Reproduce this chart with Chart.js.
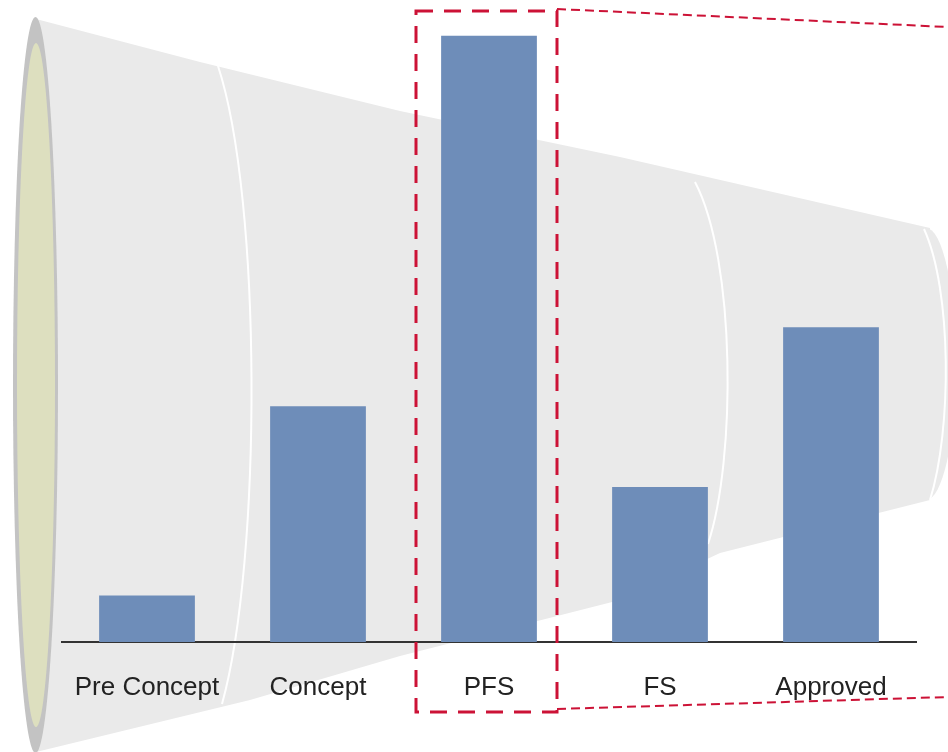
<!DOCTYPE html>
<html>
<head>
<meta charset="utf-8">
<script src="https://cdn.jsdelivr.net/npm/chart.js@4.4.1/dist/chart.umd.min.js"></script>
<style>
    html, body { margin: 0; padding: 0; background: #ffffff; }
    #wrap { width: 948px; height: 752px; position: relative; }
</style>
</head>
<body>
<div id="wrap"><canvas id="funnelChart"></canvas></div>
<script>
// stages and counts
const stages = ["Pre Concept", "Concept", "PFS", "FS", "Approved"];
const counts = [3, 15.2, 39.1, 10, 20.3];
const highlightStage = "PFS";

const barColor = "#6e8db9";
const funnelGray = "#eaeaea";
const dashRed = "#cc1236";

// Draw the grey cone behind the bars
const funnelBackground = {
    id: "funnelBackground",
    beforeDraw(chart) {
        const ctx = chart.ctx;
        ctx.save();

        // body of the cone
        ctx.fillStyle = funnelGray;
        ctx.beginPath();
        ctx.moveTo(36, 19);
        ctx.lineTo(200, 62);
        ctx.lineTo(400, 111);
        ctx.lineTo(620, 157);
        ctx.lineTo(930, 228);
        ctx.lineTo(930, 500);
        ctx.lineTo(720, 553);
        ctx.lineTo(620, 600);
        ctx.lineTo(400, 656);
        ctx.lineTo(250, 700);
        ctx.lineTo(36, 752);
        ctx.closePath();
        ctx.fill();

        // rounded right end
        ctx.beginPath();
        ctx.ellipse(926, 364, 30, 136, 0, -Math.PI / 2, Math.PI / 2);
        ctx.fill();

        // section seams
        ctx.strokeStyle = "#ffffff";
        ctx.lineWidth = 2;
        ctx.beginPath();
        ctx.moveTo(218, 66);
        ctx.bezierCurveTo(262, 200, 262, 560, 222, 704);
        ctx.stroke();
        ctx.beginPath();
        ctx.moveTo(695, 182);
        ctx.bezierCurveTo(736, 260, 736, 460, 708, 544);
        ctx.stroke();
        ctx.beginPath();
        ctx.moveTo(924, 229);
        ctx.bezierCurveTo(952, 290, 952, 430, 930, 500);
        ctx.stroke();

        // open mouth on the left
        ctx.fillStyle = "#c3c3c3";
        ctx.beginPath();
        ctx.ellipse(35.5, 385, 22.5, 368, 0, 0, Math.PI * 2);
        ctx.fill();
        ctx.fillStyle = "#dddfbf";
        ctx.beginPath();
        ctx.ellipse(36, 385, 19, 342, 0, 0, Math.PI * 2);
        ctx.fill();

        ctx.restore();
    }
};

// Dashed callout around the highlighted stage
const highlightBox = {
    id: "highlightBox",
    afterDraw(chart) {
        const ctx = chart.ctx;
        const cx = chart.scales.x.getPixelForValue(stages.indexOf(highlightStage));
        const left = cx - 73;
        const right = cx + 68;
        const top = 11;
        const bottom = 712;
        ctx.save();
        ctx.strokeStyle = dashRed;

        ctx.lineWidth = 3;
        ctx.setLineDash([17, 11]);
        ctx.strokeRect(left, top, right - left, bottom - top);

        ctx.lineWidth = 2;
        ctx.setLineDash([9, 5]);
        ctx.beginPath();
        ctx.moveTo(right, 9);
        ctx.lineTo(948, 27);
        ctx.moveTo(right, 709);
        ctx.lineTo(948, 697);
        ctx.stroke();
        ctx.restore();
    }
};

new Chart(document.getElementById("funnelChart"), {
    type: "bar",
    data: {
        labels: stages,
        datasets: [{
            data: counts,
            backgroundColor: barColor,
            barPercentage: 0.8,
            categoryPercentage: 0.7
        }]
    },
    options: {
        responsive: true,
        maintainAspectRatio: false,
        animation: false,
        layout: {
            padding: { left: 61.5, right: 31.5, top: 0, bottom: 0 }
        },
        plugins: {
            legend: { display: false },
            tooltip: { enabled: false }
        },
        scales: {
            x: {
                grid: { display: false, drawTicks: false },
                border: { display: true, color: "#333333", width: 2 },
                ticks: {
                    color: "#222222",
                    font: { family: "'Liberation Sans', Arial, sans-serif", size: 26 },
                    padding: 30,
                    autoSkip: false,
                    maxRotation: 0
                },
                afterFit(scale) { scale.height = 110; }
            },
            y: {
                display: false,
                min: 0,
                max: 41.4
            }
        }
    },
    plugins: [funnelBackground, highlightBox]
});
</script>
</body>
</html>
